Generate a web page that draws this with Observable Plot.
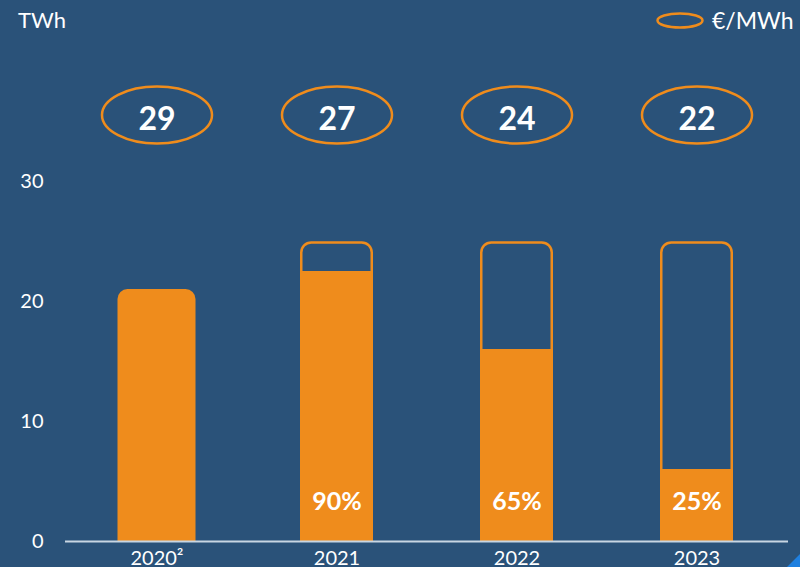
<!DOCTYPE html>
<html>
<head>
<meta charset="utf-8">
<script src="https://cdn.jsdelivr.net/npm/d3@7"></script>
<script src="https://cdn.jsdelivr.net/npm/@observablehq/plot@0.6"></script>
<style>
  html, body { margin: 0; padding: 0; }
  body { width: 800px; height: 567px; overflow: hidden; background: #2a5279; font-family: Lato, "Open Sans", sans-serif; color: #fff; position: relative; }
  #header { position: relative; height: 40px; }
  #unit { position: absolute; left: 18px; top: 9px; font-size: 22px; line-height: 22px; }
  #legend { position: absolute; left: 656px; top: 9px; font-size: 23px; line-height: 22px; display: flex; align-items: center; }
  #legend svg { margin-right: 8px; }
  #corner { position: absolute; right: 0; bottom: 0; width: 0; height: 0; border-bottom: 13px solid #1f80e0; border-left: 13px solid transparent; }
</style>
</head>
<body>
<div id="header">
  <div id="unit">TWh</div>
  <div id="legend"><svg width="48" height="17"><ellipse cx="24" cy="8.5" rx="22.5" ry="7" fill="none" stroke="#ef8c1c" stroke-width="2.5"/></svg><span>€/MWh</span></div>
</div>
<div id="chart"></div>
<div id="corner"></div>
<script>
// ---- data ----
const years = ["2020²", "2021", "2022", "2023"];
const capacity = [null, 25, 25, 25];          // TWh, outlined total
const delivered = [21, 22.5, 16, 6];          // TWh, filled part
const shareLabels = [null, "90%", "65%", "25%"];
const prices = [29, 27, 24, 22];              // €/MWh
const yTicks = [0, 10, 20, 30];

const data = years.map((year, i) => ({
  year, capacity: capacity[i], delivered: delivered[i], share: shareLabels[i], price: prices[i]
}));
const full = data.filter(d => d.capacity == null);
const partial = data.filter(d => d.capacity != null);

const orange = "#ef8c1c";

// ellipse symbol for price badges
const ellipse = {
  draw(ctx, size) {
    const r = Math.sqrt(size / Math.PI);
    const rx = r * 1.93, ry = r, k = 0.5523;
    ctx.moveTo(rx, 0);
    ctx.bezierCurveTo(rx, ry * k, rx * k, ry, 0, ry);
    ctx.bezierCurveTo(-rx * k, ry, -rx, ry * k, -rx, 0);
    ctx.bezierCurveTo(-rx, -ry * k, -rx * k, -ry, 0, -ry);
    ctx.bezierCurveTo(rx * k, -ry, rx, -ry * k, rx, 0);
    ctx.closePath();
  }
};

const chart = Plot.plot({
  width: 800,
  height: 527,
  marginLeft: 65,
  marginRight: 12,
  marginTop: 141,
  marginBottom: 26,
  style: { background: "transparent", color: "#ffffff", fontFamily: "Lato, 'Open Sans', sans-serif", fontSize: "20px", overflow: "visible" },
  x: { type: "band", domain: years, paddingInner: 0.595, paddingOuter: 0.3 },
  y: { domain: [0, 30] },
  marks: [
    Plot.axisY({ ticks: yTicks, tickSize: 0, tickPadding: 22, label: null, fontSize: 20 }),
    Plot.axisX({ tickSize: 0, tickPadding: 9, label: null, fontSize: 20 }),
    // full bar (2020)
    Plot.barY(full, { x: "year", y: "delivered", fill: orange, rx: 10, insetLeft: -2.5, insetRight: -2.5, insetBottom: -20, clip: "frame" }),
    // outlined capacity bars
    Plot.barY(partial, { x: "year", y: "capacity", fill: "none", stroke: orange, strokeWidth: 2.5, rx: 10, insetLeft: 1.25, insetRight: 1.25, insetTop: 1.5, insetBottom: -20, clip: "frame" }),
    // filled delivered part
    Plot.barY(partial, { x: "year", y: "delivered", fill: orange }),
    Plot.ruleY([0], { stroke: "#c8d6e3", strokeWidth: 2 }),
    // share labels
    Plot.text(partial, { x: "year", text: "share", frameAnchor: "bottom", lineAnchor: "middle", dy: -40, fill: "#ffffff", fontWeight: "bold", fontSize: 25 }),
    // price ellipses
    Plot.dot(data, { x: "year", frameAnchor: "top", dy: -66.5, r: 28.5, symbol: ellipse, fill: "none", stroke: orange, strokeWidth: 2.5 }),
    Plot.text(data, { x: "year", text: d => String(d.price), frameAnchor: "top", lineAnchor: "middle", dy: -62, fill: "#ffffff", fontWeight: "bold", fontSize: 32 })
  ]
});
document.getElementById("chart").appendChild(chart);
</script>
</body>
</html>
